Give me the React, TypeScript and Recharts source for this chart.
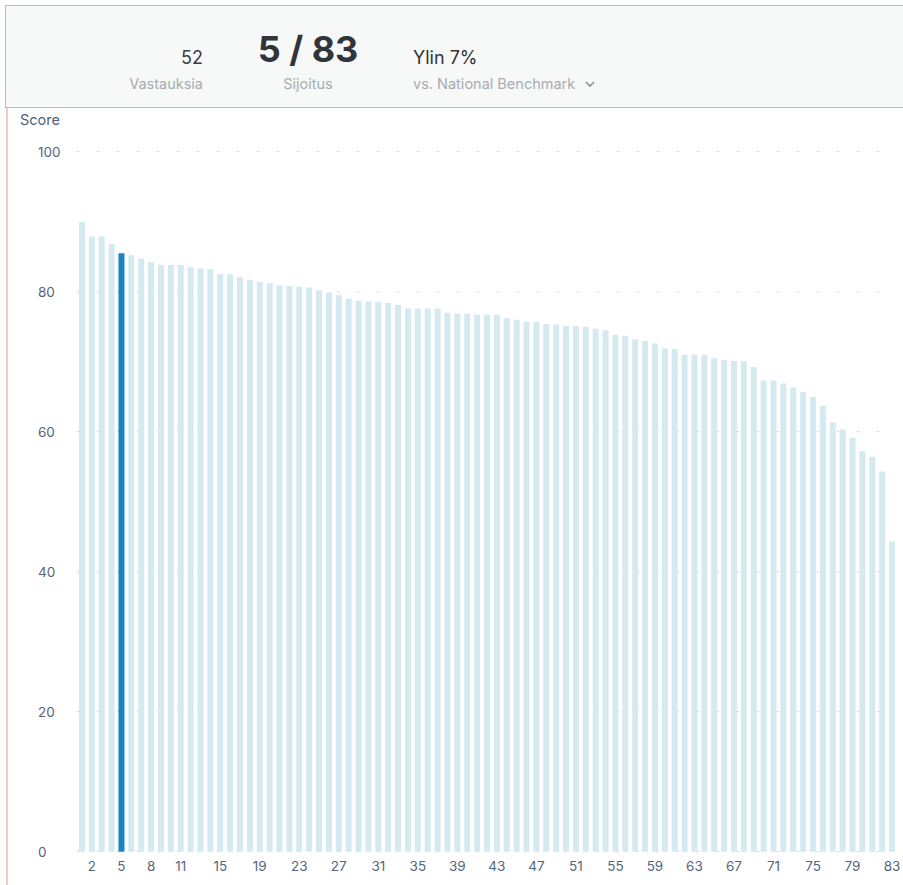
import React from 'react'
import { BarChart, Bar, XAxis, YAxis, CartesianGrid, Cell } from 'recharts'

// rank of each unit (1 = best)
const ranks = [
  1, 2, 3, 4, 5, 6, 7, 8, 9, 10, 11, 12, 13, 14, 15, 16, 17, 18, 19, 20,
  21, 22, 23, 24, 25, 26, 27, 28, 29, 30, 31, 32, 33, 34, 35, 36, 37, 38, 39, 40,
  41, 42, 43, 44, 45, 46, 47, 48, 49, 50, 51, 52, 53, 54, 55, 56, 57, 58, 59, 60,
  61, 62, 63, 64, 65, 66, 67, 68, 69, 70, 71, 72, 73, 74, 75, 76, 77, 78, 79, 80,
  81, 82, 83,
]

const scores = [
  90.0, 87.9, 87.9, 86.8, 85.5, 85.2, 84.7, 84.2, 83.8, 83.8,
  83.8, 83.5, 83.3, 83.2, 82.5, 82.5, 82.1, 81.7, 81.4, 81.2,
  80.9, 80.8, 80.7, 80.6, 80.2, 79.9, 79.5, 79.0, 78.7, 78.6,
  78.5, 78.4, 78.1, 77.6, 77.6, 77.6, 77.6, 77.0, 76.9, 76.9,
  76.7, 76.7, 76.7, 76.2, 76.0, 75.7, 75.7, 75.4, 75.3, 75.1,
  75.1, 75.0, 74.7, 74.5, 73.8, 73.7, 73.2, 73.0, 72.6, 71.9,
  71.8, 71.0, 71.0, 71.0, 70.5, 70.2, 70.1, 70.1, 69.2, 67.3,
  67.3, 66.9, 66.3, 65.7, 65.0, 63.7, 61.3, 60.3, 59.1, 57.2,
  56.4, 54.3, 44.3,
]

const xTicks = [2, 5, 8, 11, 15, 19, 23, 27, 31, 35, 39, 43, 47, 51, 55, 59, 63, 67, 71, 75, 79, 83]
const yTicks = [0, 20, 40, 60, 80, 100]

const ownRank = 5
const responses = '52'
const totalUnits = 83
const percentile = 'Ylin 7%'

const FONT = 'Inter, "Noto Sans", sans-serif'
const TICK_COLOR = '#55657d'
const LABEL_GREY = '#a7acb1'

const chartData = ranks.map((r, i) => ({ rank: r, score: scores[i] }))

function XTick(props: any) {
  const { x, payload } = props
  if (!xTicks.includes(payload.value)) return <g />
  return (
    <text x={x} y={871} textAnchor="middle" fill={TICK_COLOR} fontSize={13.5} fontFamily={FONT}>
      {payload.value}
    </text>
  )
}

function YTick(props: any) {
  const { y, payload } = props
  return (
    <text x={38} y={y + 5} textAnchor="start" fill={TICK_COLOR} fontSize={13.5} fontFamily={FONT}>
      {payload.value}
    </text>
  )
}

// header strip, frame lines and the "Score" caption
function Header() {
  return (
    <svg width={903} height={885} style={{ position: 'absolute', left: 0, top: 0, pointerEvents: 'none' }}>
      <rect x={5.5} y={5.5} width={900} height={102} fill="#f7f8f8" stroke="#f0ab8e" strokeWidth={1} />
      <line x1={7} y1={108} x2={7} y2={885} stroke="#f1a59a" strokeWidth={1.2} />
      <g fontFamily={FONT}>
        <text x={203} y={64} textAnchor="end" fontSize={18} fill="#3a3f45">{responses}</text>
        <text x={203} y={89} textAnchor="end" fontSize={14.5} fill={LABEL_GREY}>Vastauksia</text>
        <text x={308} y={62} textAnchor="middle" fontSize={36} fontWeight={700} fill="#30353a">
          {`${ownRank} / ${totalUnits}`}
        </text>
        <text x={308} y={89} textAnchor="middle" fontSize={14.5} fill={LABEL_GREY}>Sijoitus</text>
        <text x={413} y={64} fontSize={18} fill="#30353a">{percentile}</text>
        <text x={413} y={89} fontSize={14.5} fill={LABEL_GREY}>vs. National Benchmark</text>
        <path d="M 586 82 L 590 86 L 594 82" fill="none" stroke="#8a9096" strokeWidth={1.6} />
        <text x={20} y={125} fontSize={14.5} fill="#4d5e78">Score</text>
      </g>
    </svg>
  )
}

export default function App() {
  return (
    <div style={{ position: 'absolute', left: 0, top: 0, width: 903, height: 885, background: '#fff', overflow: 'hidden' }}>
      <BarChart
        width={903}
        height={885}
        data={chartData}
        margin={{ top: 151.7, right: 6, bottom: 0, left: 0 }}
        barCategoryGap="19.5%"
        style={{ position: 'absolute', left: 0, top: 0 }}
      >
        <CartesianGrid vertical={false} stroke="#c9d0d7" strokeDasharray="2 18" />
        <XAxis
          dataKey="rank"
          height={33.3}
          interval={0}
          axisLine={false}
          tickLine={false}
          tick={<XTick />}
        />
        <YAxis
          domain={[0, 100]}
          ticks={yTicks}
          width={77}
          axisLine={false}
          tickLine={false}
          tick={<YTick />}
        />
        <Bar dataKey="score" isAnimationActive={false}>
          {chartData.map(d => (
            <Cell key={d.rank} fill={d.rank === ownRank ? '#1b85c4' : '#d5e9f0'} />
          ))}
        </Bar>
      </BarChart>
      <Header />
    </div>
  )
}
